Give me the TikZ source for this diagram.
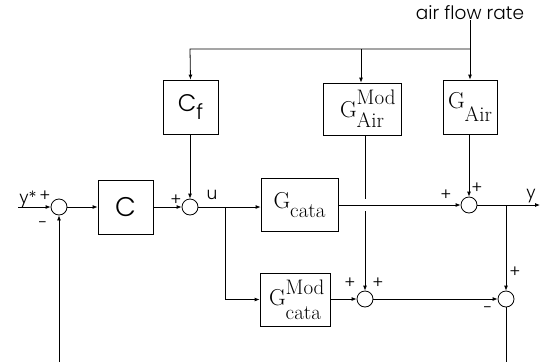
\documentclass[tikz,border=0pt]{standalone}
\usepackage{fontspec}
\setsansfont{Poppins}
\newfontfamily\lightsans{Poppins Light}
\usetikzlibrary{arrows.meta,calc}
\newcommand\gsub[2]{G\raisebox{-#2pt}{\fontsize{21}{21}\selectfont #1}}
\newcommand\gsupsub[4]{G\makebox[0pt][l]{\raisebox{#3pt}{\fontsize{21}{21}\selectfont #1}}\raisebox{-#4pt}{\fontsize{21}{21}\selectfont #2}}
\begin{document}
\begin{tikzpicture}[x=1pt,y=-1pt,line width=0.8pt,
  blk/.style={draw,line width=0.8pt,inner sep=0pt,font=\fontsize{23}{24}\selectfont},
  sblk/.style={draw,line width=0.8pt,inner sep=0pt,font=\lightsans\fontsize{27}{28}\selectfont},
  sumc/.style={draw,circle,minimum size=16pt,inner sep=0pt},
  lbl/.style={inner sep=0pt,font=\lightsans\fontsize{17}{18}\selectfont},
  arr/.style={-{Latex[length=5pt,width=4pt]}}]
\useasboundingbox (0,0) rectangle (540,362);
% top signal
\node[lbl,font=\lightsans\fontsize{18.5}{19}\selectfont] (afr) at (470,13) {air flow rate};
\coordinate (jl) at (190,49);
\coordinate (jm) at (361,49);
\coordinate (jr) at (470,49);
% boxes
\node[sblk,minimum width=55pt,minimum height=54pt,font=\lightsans\fontsize{24}{25}\selectfont] (cf) at (190.5,107) {C\raisebox{-8pt}{\fontsize{21}{21}\selectfont f}};
\node[blk,minimum width=78pt,minimum height=52pt] (gairm) at (362,109) {\gsupsub{Mod}{Air}{13}{10}};
\node[blk,minimum width=54pt,minimum height=54pt] (gair) at (470,107) {\gsub{Air}{13}};
\node[sblk,minimum width=55pt,minimum height=54pt] (c) at (125.5,207) {C};
\node[blk,minimum width=77pt,minimum height=53pt] (gcata) at (299.5,205) {\gsub{cata}{9}};
\node[blk,minimum width=70pt,minimum height=53pt] (gcatam) at (295,299.5) {\gsupsub{Mod}{cata}{11}{14}};
% summing junctions
\node[sumc] (s1) at (59,207) {};
\node[sumc] (s2) at (190,207) {};
\node[sumc] (s3) at (469,205) {};
\node[sumc] (s4) at (365,299) {};
\node[sumc] (s5) at (506,299) {};
% coordinates
\coordinate (yin) at (18,207);
\coordinate (b1) at (225,207);
\coordinate (b2) at (506,205);
\coordinate (yout) at (540,205);
\coordinate (fbl) at (59,362);
\coordinate (fbr) at (506,362);
% labels
\node[lbl] (ystar) at (28,199) {y*};
\node[lbl] (p1) at (45,196) {+};
\node[lbl] (m1) at (43,225) {-};
\node[lbl] (p2) at (176,200) {+};
\node[lbl] (u) at (212,195) {u};
\node[lbl] (p3a) at (446,195) {+};
\node[lbl] (p3b) at (477,188) {+};
\node[lbl] (y) at (531,196) {y};
\node[lbl] (p4a) at (350,283) {+};
\node[lbl] (p4b) at (378,283) {+};
\node[lbl] (p5) at (515,272) {+};
\node[lbl] (m5) at (488,310) {-};
% connectors
\draw[arr] (afr.south) -- (gair.north);
\draw[arr] (jr) -- (jl) -- (cf.north);
\draw[arr] (jm) -- (gairm.north -| jm);
\draw[arr] (yin) -- (s1.west);
\draw[arr] (s1.east) -- (c.west);
\draw[arr] (c.east) -- (s2.west);
\draw[arr] (cf.south -| s2) -- (s2.north);
\draw[arr] (s2.east) -- (s2.east -| gcata.west);
\draw[arr] (b1) |- (gcatam.west);
\draw[arr] (gcata.east |- s3) -- (s3.west);
\draw[arr] (gair.south -| s3) -- (s3.north);
\draw[arr] (s3.east) -- (yout);
\draw (gairm.south -| s4) -- ($(s4 |- s3)+(0,-6)$);
\draw[arr] ($(s4 |- s3)+(0,6)$) -- (s4.north);
\draw[arr] (gcatam.east |- s4) -- (s4.west);
\draw[arr] (s4.east) -- (s5.west);
\draw[arr] (b2) -- (s5.north);
\draw (s5.south) -- (fbr);
\draw[arr] (fbl) -- (s1.south);
\end{tikzpicture}
\end{document}
